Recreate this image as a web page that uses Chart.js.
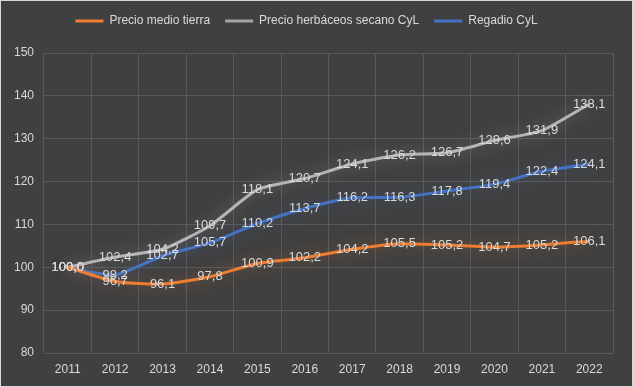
<!DOCTYPE html>
<html>
<head>
<meta charset="utf-8">
<script src="https://cdn.jsdelivr.net/npm/chart.js@4/dist/chart.umd.min.js"></script>
<style>
  html, body { margin: 0; padding: 0; background: #404040; }
  #wrap { width: 633px; height: 387px; }
</style>
</head>
<body>
<div id="wrap"><canvas id="chart" width="633" height="387"></canvas></div>
<script>
// datos
const years = ['2011', '2012', '2013', '2014', '2015', '2016', '2017', '2018', '2019', '2020', '2021', '2022'];
const precioMedio = [100.0, 96.7, 96.1, 97.8, 100.9, 102.2, 104.2, 105.5, 105.2, 104.7, 105.2, 106.1];
const secano      = [100.0, 102.4, 104.2, 109.7, 118.1, 120.7, 124.1, 126.2, 126.7, 129.6, 131.9, 138.1];
const regadio     = [100.0, 98.2, 102.7, 105.7, 110.2, 113.7, 116.2, 116.3, 117.8, 119.4, 122.4, 124.1];

const FONT = "'Liberation Sans', Arial, sans-serif";
const TEXT = '#d9d9d9';
const GRID = '#595959';

// fondo, marco y alto de la leyenda
const bgPlugin = {
  id: 'bg',
  beforeInit(chart) {
    const fit = chart.legend.fit;
    chart.legend.fit = function() {
      fit.call(this);
      this.height = this.height + 16;
    };
  },
  beforeDraw(chart) {
    const ctx = chart.ctx;
    ctx.save();
    ctx.fillStyle = '#404040';
    ctx.fillRect(0, 0, chart.width, chart.height);
    ctx.strokeStyle = '#d9d9d9';
    ctx.lineWidth = 1;
    ctx.strokeRect(0.5, 0.5, chart.width - 1, chart.height - 1);
    ctx.restore();
  }
};

// resplandor de las líneas
const glowPlugin = {
  id: 'glow',
  beforeDatasetDraw(chart, args) {
    const ds = chart.data.datasets[args.index];
    chart.ctx.save();
    chart.ctx.shadowColor = ds.glowColor;
    chart.ctx.shadowBlur = 16;
  },
  afterDatasetDraw(chart) {
    chart.ctx.restore();
  }
};

// etiquetas de datos con coma decimal
const labelPlugin = {
  id: 'labels',
  afterDatasetsDraw(chart) {
    const ctx = chart.ctx;
    ctx.save();
    ctx.font = '13px ' + FONT;
    ctx.fillStyle = TEXT;
    ctx.textAlign = 'center';
    ctx.textBaseline = 'middle';
    chart.data.datasets.forEach(function(ds, i) {
      chart.getDatasetMeta(i).data.forEach(function(pt, j) {
        const txt = ds.data[j].toFixed(1).replace('.', ',');
        ctx.fillText(txt, pt.x, pt.y);
      });
    });
    ctx.restore();
  }
};

new Chart(document.getElementById('chart'), {
  type: 'line',
  data: {
    labels: years,
    datasets: [
      { label: 'Precio medio tierra', data: precioMedio, borderColor: '#ed7d31', backgroundColor: '#ed7d31', glowColor: 'rgba(237,125,49,0.45)' },
      { label: 'Precio herbáceos secano CyL', data: secano, borderColor: '#b4b4b4', backgroundColor: '#a5a5a5', glowColor: 'rgba(210,210,210,0.4)' },
      { label: 'Regadio CyL', data: regadio, borderColor: '#4472c4', backgroundColor: '#4472c4', glowColor: 'rgba(68,114,196,0.5)' }
    ]
  },
  options: {
    responsive: false,
    animation: false,
    layout: { padding: { top: 0, right: 20, bottom: 0, left: 0 } },
    elements: {
      line: { borderWidth: 3, tension: 0.2, fill: false },
      point: { radius: 0, hoverRadius: 0 }
    },
    plugins: {
      tooltip: { enabled: false },
      legend: {
        position: 'top',
        labels: {
          color: TEXT,
          font: { family: FONT, size: 12 },
          boxWidth: 28,
          boxHeight: 3,
          padding: 15,
          generateLabels(chart) {
            return chart.data.datasets.map(function(ds, i) {
              return {
                text: ds.label,
                fillStyle: ds.backgroundColor,
                strokeStyle: ds.backgroundColor,
                lineWidth: 0,
                fontColor: TEXT,
                datasetIndex: i
              };
            });
          }
        }
      }
    },
    scales: {
      x: {
        offset: true,
        grid: { color: GRID, offset: true, drawTicks: false },
        border: { display: false },
        ticks: { color: TEXT, font: { family: FONT, size: 12 }, padding: 9 },
        afterFit(scale) { scale.height = 34; }
      },
      y: {
        min: 80,
        max: 150,
        grid: { color: GRID, drawTicks: false },
        border: { display: false },
        ticks: { stepSize: 10, color: TEXT, font: { family: FONT, size: 12 }, padding: 10 },
        afterFit(scale) { scale.width = 44; }
      }
    }
  },
  plugins: [bgPlugin, glowPlugin, labelPlugin]
});
</script>
</body>
</html>
